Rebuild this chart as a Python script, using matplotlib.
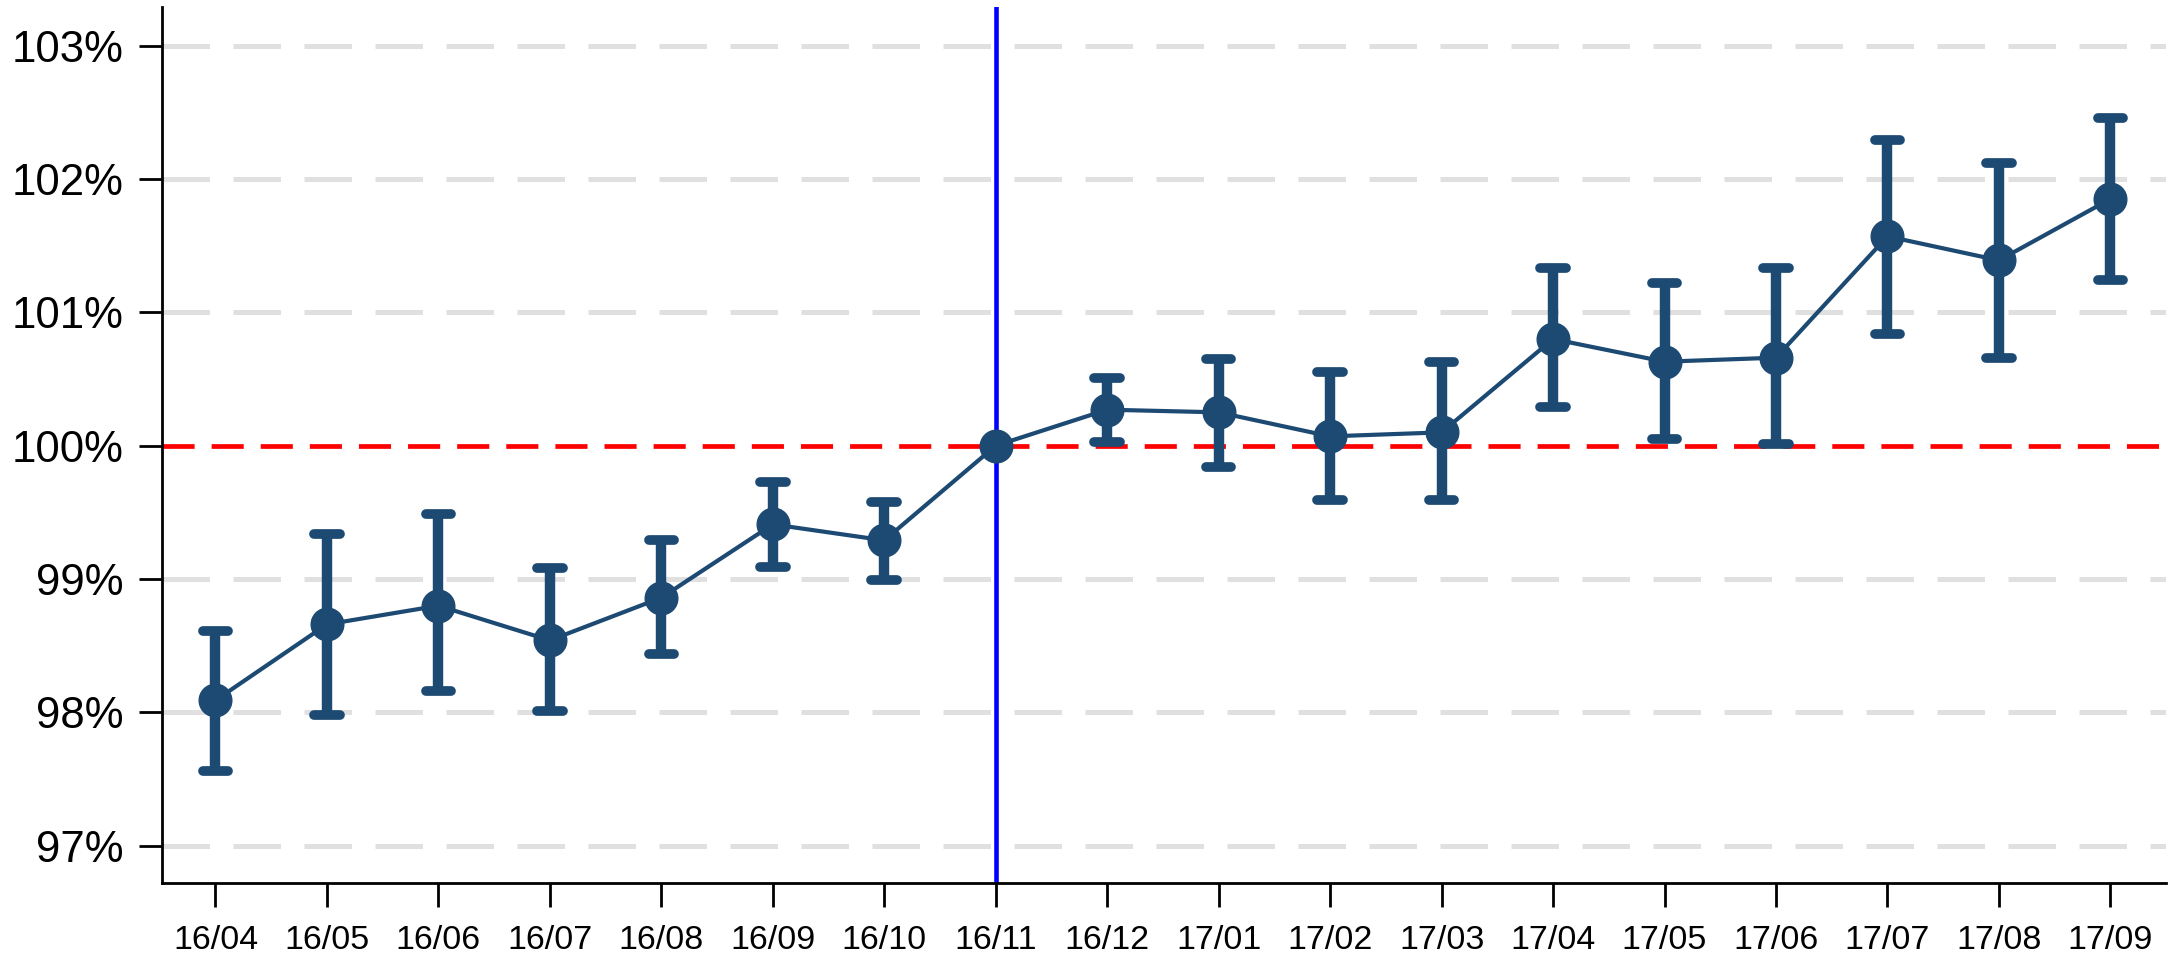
import numpy as np
import matplotlib.pyplot as plt
from matplotlib.ticker import FuncFormatter

months = ['16/04', '16/05', '16/06', '16/07', '16/08', '16/09', '16/10', '16/11', '16/12',
          '17/01', '17/02', '17/03', '17/04', '17/05', '17/06', '17/07', '17/08', '17/09']
index = [98.09, 98.66, 98.80, 98.54, 98.86, 99.41, 99.29, 100.00, 100.27,
         100.25, 100.07, 100.10, 100.80, 100.63, 100.66, 101.57, 101.39, 101.85]
upper = [98.61, 99.34, 99.49, 99.08, 99.29, 99.73, 99.58, 100.00, 100.51,
         100.65, 100.55, 100.63, 101.33, 101.22, 101.33, 102.29, 102.12, 102.46]
lower = [97.56, 97.98, 98.16, 98.01, 98.44, 99.09, 98.99, 100.00, 100.03,
         99.84, 99.59, 99.59, 100.29, 100.05, 100.01, 100.84, 100.66, 101.24]
base_month = '16/11'
yticks = [97, 98, 99, 100, 101, 102, 103]

plt.rcParams['font.family'] = ['Liberation Sans', 'DejaVu Sans']

navy = '#1d4a73'
x = np.arange(len(months))
y = np.array(index)
hi = np.array(upper)
lo = np.array(lower)
has_bar = hi > lo

fig = plt.figure(figsize=(21.77, 9.59), dpi=100)
ax = fig.add_axes([0.0744, 0.0792, 0.9206, 0.9135])

# light dashed grid
for t in yticks:
    if t != 100:
        ax.axhline(t, color='#e0e0e0', lw=3.6, dashes=(9.5, 4.7), zorder=0)

ax.axhline(100, color='#ff0000', lw=3.4, dashes=(6.8, 3.6), zorder=1)
ax.axvline(months.index(base_month), color='#0000ff', lw=3.3, zorder=1)

# error bars with rounded caps
xb = x[has_bar]
ax.vlines(xb, lo[has_bar], hi[has_bar], color=navy, lw=7.5, zorder=2)
for ends in (hi, lo):
    caps = ax.hlines(ends[has_bar], xb - 0.115, xb + 0.115, color=navy, lw=7, zorder=2)
    caps.set_capstyle('round')

ax.plot(x, y, color=navy, lw=3, marker='o', markersize=23.5, zorder=3)

ax.set_xlim(-0.48, 17.5)
ax.set_ylim(96.72, 103.29)
ax.set_xticks(x)
ax.set_xticklabels(months, fontsize=24.5)
ax.set_yticks(yticks)
ax.yaxis.set_major_formatter(FuncFormatter(lambda v, p: '%d%%' % v))
ax.tick_params(axis='y', labelsize=31.5, length=16.5, width=2, pad=11)
ax.tick_params(axis='x', length=17, width=2, pad=13)

for side in ['top', 'right']:
    ax.spines[side].set_visible(False)
for side in ['left', 'bottom']:
    ax.spines[side].set_linewidth(2)

fig.savefig('out.png', dpi=100)
